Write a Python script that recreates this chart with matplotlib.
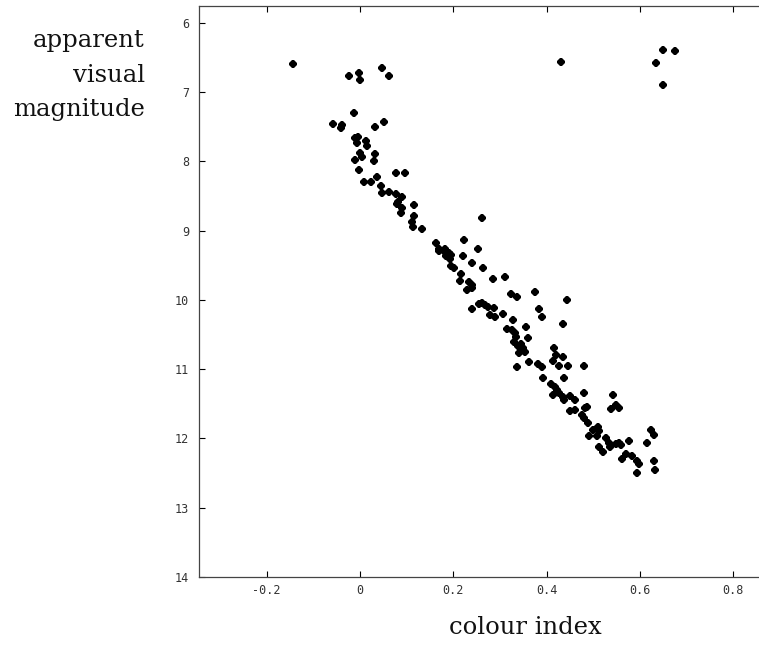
import matplotlib
matplotlib.use("Agg")
from matplotlib import pyplot as plt

# colour index (B-V) and apparent visual magnitude
colour = [-0.144, -0.024, -0.003, 0.001, 0.048, 0.062, 0.431, 0.649, 0.676, 0.634,
          0.649, -0.013, -0.057, -0.039, -0.040, 0.033, 0.052, -0.010, -0.005, -0.007,
          0.012, 0.016, -0.001, 0.004, 0.033, -0.011, 0.029, -0.002, 0.008, 0.023,
          0.037, 0.077, 0.096, 0.044, 0.048, 0.063, 0.077, 0.089, 0.081, 0.079,
          0.091, 0.087, 0.115, 0.116, 0.111, 0.113, 0.133, 0.162, 0.169, 0.183,
          0.261, 0.169, 0.182, 0.186, 0.191, 0.194, 0.184, 0.193, 0.195, 0.201,
          0.223, 0.221, 0.252, 0.239, 0.264, 0.216, 0.214, 0.234, 0.239, 0.229,
          0.241, 0.286, 0.311, 0.323, 0.337, 0.375, 0.241, 0.254, 0.261, 0.268,
          0.275, 0.287, 0.279, 0.289, 0.306, 0.327, 0.384, 0.391, 0.356, 0.314,
          0.325, 0.332, 0.334, 0.361, 0.330, 0.339, 0.346, 0.350, 0.340, 0.354,
          0.416, 0.419, 0.414, 0.337, 0.362, 0.381, 0.391, 0.443, 0.436, 0.436,
          0.446, 0.426, 0.480, 0.393, 0.438, 0.409, 0.418, 0.423, 0.427, 0.414,
          0.434, 0.437, 0.451, 0.461, 0.480, 0.543, 0.537, 0.549, 0.556, 0.451,
          0.461, 0.475, 0.482, 0.487, 0.479, 0.489, 0.500, 0.511, 0.512, 0.491,
          0.507, 0.513, 0.521, 0.527, 0.534, 0.536, 0.548, 0.556, 0.559, 0.577,
          0.570, 0.561, 0.582, 0.593, 0.616, 0.623, 0.630, 0.598, 0.594, 0.630,
          0.632]
vmag = [6.59, 6.76, 6.72, 6.83, 6.65, 6.76, 6.57, 6.39, 6.40, 6.58,
        6.90, 7.30, 7.46, 7.48, 7.51, 7.50, 7.43, 7.66, 7.64, 7.74,
        7.71, 7.78, 7.88, 7.93, 7.89, 7.98, 7.99, 8.13, 8.29, 8.29,
        8.22, 8.16, 8.17, 8.36, 8.46, 8.44, 8.47, 8.52, 8.58, 8.62,
        8.67, 8.74, 8.63, 8.79, 8.87, 8.95, 8.98, 9.18, 9.26, 9.27,
        8.81, 9.29, 9.30, 9.34, 9.32, 9.35, 9.37, 9.41, 9.51, 9.54,
        9.13, 9.37, 9.26, 9.46, 9.54, 9.63, 9.72, 9.74, 9.78, 9.86,
        9.83, 9.69, 9.67, 9.92, 9.95, 9.88, 10.13, 10.06, 10.05, 10.07,
        10.10, 10.12, 10.22, 10.25, 10.20, 10.29, 10.13, 10.25, 10.39, 10.42,
        10.43, 10.48, 10.53, 10.55, 10.60, 10.67, 10.64, 10.70, 10.76, 10.75,
        10.70, 10.79, 10.88, 10.97, 10.89, 10.93, 10.97, 10.00, 10.35, 10.82,
        10.95, 10.95, 10.96, 11.12, 11.13, 11.22, 11.26, 11.30, 11.34, 11.37,
        11.40, 11.45, 11.38, 11.45, 11.35, 11.37, 11.58, 11.52, 11.56, 11.60,
        11.59, 11.66, 11.56, 11.54, 11.71, 11.77, 11.88, 11.83, 11.89, 11.96,
        11.97, 12.12, 12.19, 12.00, 12.06, 12.13, 12.08, 12.06, 12.09, 12.03,
        12.22, 12.30, 12.26, 12.33, 12.06, 11.88, 11.95, 12.37, 12.50, 12.32,
        12.45]

xticks = [-0.2, 0, 0.2, 0.4, 0.6, 0.8]
xticklabels = ["-0.2", "0", "0.2", "0.4", "0.6", "0.8"]
yticks = [6, 7, 8, 9, 10, 11, 12, 13, 14]
ylabel_lines = ["apparent", "visual", "magnitude"]

fig = plt.figure(figsize=(7.59, 6.45), dpi=100)
ax = fig.add_axes([199 / 759, 68 / 645, 1 - 199 / 759, 571 / 645])

ax.plot(colour, vmag, linestyle="none", marker="8", markersize=5.5,
        color="black", markeredgewidth=0)

ax.set_xlim(-0.345, 0.855)
ax.set_ylim(14, 5.755)
ax.set_xticks(xticks)
ax.set_xticklabels(xticklabels)
ax.set_yticks(yticks)
ax.tick_params(direction="in", length=4, width=0.8, top=True, right=False,
               labelsize=8.5, labelcolor="#333333")
ax.tick_params(axis="x", pad=5)
ax.tick_params(axis="y", pad=7)
for lab in ax.get_xticklabels() + ax.get_yticklabels():
    lab.set_family("DejaVu Sans Mono")
ax.spines["right"].set_visible(False)
for s in ["left", "top", "bottom"]:
    ax.spines[s].set_linewidth(0.9)
    ax.spines[s].set_color("#444444")

# y label as three right-aligned lines left of the axes
for i, line in enumerate(ylabel_lines):
    fig.text(145 / 759, 1 - (47 + 34.5 * i) / 645, line, ha="right", va="baseline",
             family="DejaVu Serif", fontsize=17.5, color="#111111")
fig.text(525 / 759, 1 - 634 / 645, "colour index", ha="center", va="baseline",
         family="DejaVu Serif", fontsize=17.5, color="#111111")

fig.savefig("out.png", dpi=100)
